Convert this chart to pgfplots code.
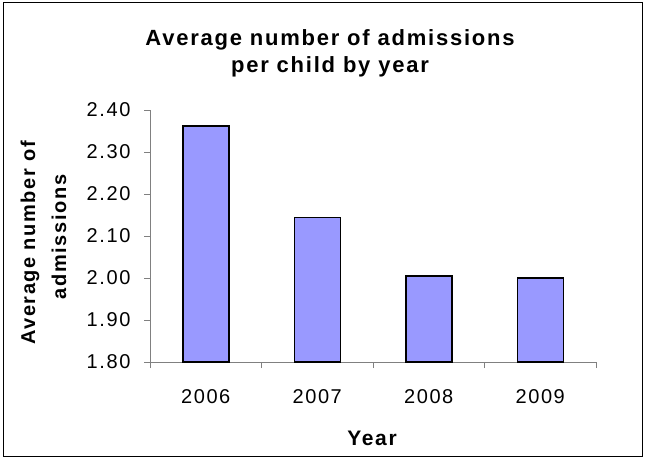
\documentclass[border=0pt]{standalone}
\usepackage{pgfplots}
\pgfplotsset{compat=1.18}
\usepackage{fontspec}
\setmainfont{Liberation Sans}
\newfontfamily\chartfont[LetterSpace=8]{Liberation Sans}
\definecolor{barfill}{HTML}{9999FF}
\definecolor{axisgray}{HTML}{808080}
\begin{document}
\begin{tikzpicture}[x=1pt,y=1pt]
\useasboundingbox (0,0) rectangle (645,459);
\draw[black, line width=1pt] (3,3) rectangle (642,456);
\begin{axis}[
  at={(150pt,97pt)}, anchor=south west,
  scale only axis, width=446pt, height=252pt,
  xmin=-0.5, xmax=3.5, ymin=1.8, ymax=2.4,
  ybar, bar width=46pt,
  axis x line*=bottom, axis y line*=left,
  axis line style={axisgray, line width=1pt, -},
  xtick={-0.5,0.5,1.5,2.5,3.5},
  x tick label as interval,
  xticklabels={2006,2007,2008,2009},
  ytick={1.8,1.9,2.0,2.1,2.2,2.3,2.4},
  /pgf/number format/assume math mode=true,
  yticklabel style={xshift=-10pt, /pgf/number format/fixed,
    /pgf/number format/fixed zerofill, /pgf/number format/precision=2},
  tick align=outside, major tick length=6pt,
  tick style={axisgray, line width=1pt},
  tick label style={font=\fontsize{20}{24}\chartfont},
  xticklabel style={yshift=-18pt},
]
\addplot[fill=barfill, draw=black, line width=1.5pt]
  coordinates {(0,2.362) (1,2.144) (2,2.005) (3,2.000)};
\end{axis}
\node[anchor=base, font=\fontsize{22}{26}\chartfont\bfseries] at (330,413) {Average number of admissions};
\node[anchor=base, font=\fontsize{22}{26}\chartfont\bfseries] at (330,386) {per child by year};
\node[anchor=base, rotate=90, font=\fontsize{20}{24}\chartfont\bfseries] at (35,216) {Average number of};
\node[anchor=base, rotate=90, font=\fontsize{20}{24}\chartfont\bfseries] at (66,222) {admissions};
\node[anchor=base, font=\fontsize{21}{25}\chartfont\bfseries] at (372,14) {Year};
\end{tikzpicture}
\end{document}
